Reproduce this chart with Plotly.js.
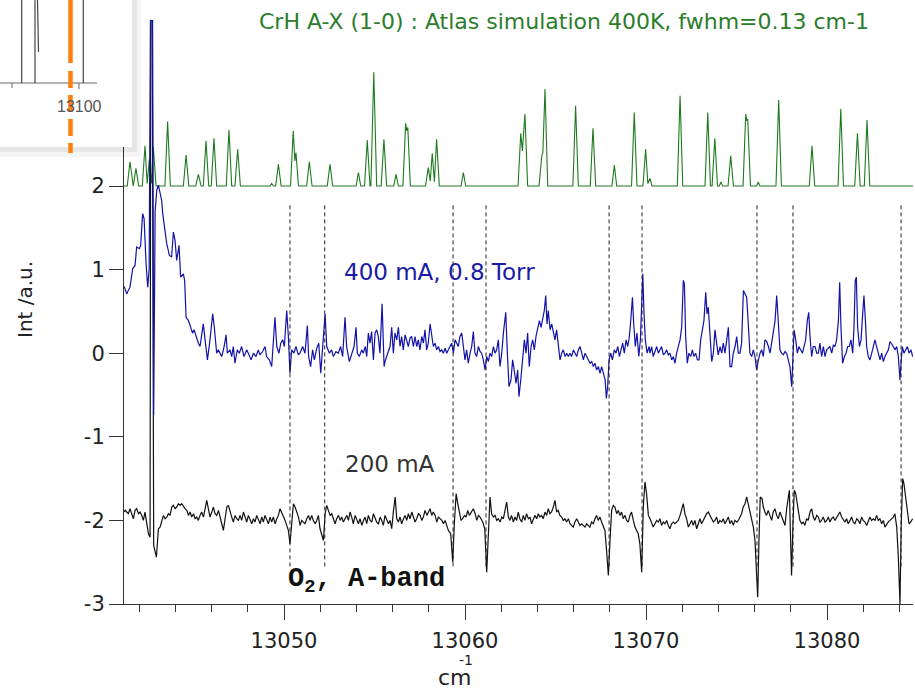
<!DOCTYPE html>
<html>
<head>
<meta charset="utf-8">
<script src="https://cdn.plot.ly/plotly-3.0.1.min.js"></script>
<style>html,body{margin:0;padding:0;background:#fff;}#chart{width:915px;height:692px;}</style>
</head>
<body>
<div id="chart"></div>
<script>
// ---- Data ----
// Simulated CrH A-X (1-0) spectrum (offset +2), line vertices [wavenumber, intensity]
const simSpectrum = [[13041.16,2.0],[13041.34,2.0],[13041.49,2.29],[13041.64,2.0],[13041.67,2.0],[13041.82,2.21],[13041.97,2.0],[13042.17,2.0],[13042.32,2.48],[13042.44,2.03],[13042.56,2.32],[13042.67,2.03],[13042.78,2.47],[13042.93,2.0],[13043.42,2.0],[13043.57,2.77],[13043.72,2.0],[13044.44,2.0],[13044.59,2.37],[13044.74,2.0],[13045.12,2.0],[13045.27,2.14],[13045.42,2.0],[13045.54,2.0],[13045.69,2.54],[13045.84,2.0],[13045.98,2.0],[13046.13,2.57],[13046.28,2.0],[13046.81,2.0],[13046.96,2.67],[13047.11,2.0],[13047.29,2.0],[13047.44,2.44],[13047.59,2.0],[13049.22,2.0],[13049.32,2.03],[13049.42,2.0],[13049.54,2.0],[13049.69,2.26],[13049.84,2.0],[13050.36,2.0],[13050.51,2.66],[13050.60,2.30],[13050.66,2.40],[13050.80,2.0],[13051.25,2.0],[13051.40,2.29],[13051.55,2.0],[13052.39,2.0],[13052.54,2.26],[13052.69,2.0],[13053.98,2.0],[13054.11,2.16],[13054.24,2.0],[13054.45,2.0],[13054.60,2.55],[13054.75,2.0],[13054.80,2.0],[13054.96,3.36],[13055.12,2.0],[13055.37,2.0],[13055.52,2.56],[13055.67,2.0],[13056.06,2.0],[13056.19,2.14],[13056.32,2.0],[13056.57,2.0],[13056.72,2.75],[13056.78,2.66],[13056.84,2.70],[13056.98,2.0],[13057.82,2.0],[13057.97,2.22],[13058.08,2.06],[13058.19,2.39],[13058.31,2.05],[13058.43,2.56],[13058.58,2.0],[13059.78,2.0],[13059.91,2.16],[13060.04,2.0],[13062.93,2.0],[13063.08,2.63],[13063.17,2.42],[13063.31,2.86],[13063.46,2.0],[13064.09,2.0],[13064.24,2.36],[13064.30,2.40],[13064.42,3.16],[13064.57,2.0],[13065.96,2.0],[13066.11,2.96],[13066.26,2.0],[13066.92,2.0],[13067.07,2.69],[13067.22,2.0],[13068.12,2.0],[13068.25,2.25],[13068.38,2.0],[13069.20,2.0],[13069.35,2.88],[13069.50,2.0],[13069.83,2.0],[13069.98,2.44],[13070.10,2.03],[13070.22,2.09],[13070.33,2.0],[13071.73,2.0],[13071.88,3.08],[13072.03,2.0],[13073.26,2.0],[13073.41,2.88],[13073.56,2.0],[13073.65,2.0],[13073.80,2.57],[13073.95,2.0],[13074.05,2.0],[13074.14,2.05],[13074.23,2.0],[13074.53,2.0],[13074.68,2.36],[13074.83,2.0],[13075.36,2.0],[13075.51,2.86],[13075.57,2.78],[13075.62,2.80],[13075.77,2.0],[13076.11,2.0],[13076.20,2.05],[13076.29,2.0],[13077.18,2.0],[13077.33,3.03],[13077.48,2.0],[13079.02,2.0],[13079.17,2.48],[13079.32,2.0],[13080.61,2.0],[13080.76,2.92],[13080.91,2.0],[13081.53,2.0],[13081.68,2.63],[13081.83,2.0],[13082.06,2.0],[13082.21,2.79],[13082.36,2.0],[13084.75,2.0]];

// 400 mA, 0.8 Torr trace [wavenumber, intensity]
const trace400mA = [[13041.17,0.80],[13041.22,0.77],[13041.31,0.71],[13041.49,0.79],[13041.64,1.01],[13041.77,1.05],[13041.86,1.27],[13042.01,1.25],[13042.08,1.29],[13042.19,1.67],[13042.27,1.61],[13042.38,1.07],[13042.47,0.79],[13042.55,1.00],[13042.62,3.98],[13042.74,3.98],[13042.80,-0.74],[13042.88,1.70],[13042.97,1.95],[13043.06,2.01],[13043.15,1.91],[13043.24,1.83],[13043.30,1.67],[13043.43,1.43],[13043.52,1.31],[13043.67,1.17],[13043.79,1.15],[13043.89,1.45],[13043.98,1.35],[13044.07,1.11],[13044.20,1.29],[13044.29,0.91],[13044.44,0.95],[13044.51,0.87],[13044.59,0.43],[13044.72,0.39],[13044.84,0.31],[13044.95,0.24],[13045.03,0.28],[13045.14,0.20],[13045.27,0.12],[13045.36,0.08],[13045.45,0.22],[13045.54,0.35],[13045.64,0.16],[13045.77,-0.08],[13045.91,0.16],[13046.06,0.47],[13046.15,0.31],[13046.28,0.00],[13046.37,0.04],[13046.56,-0.04],[13046.69,0.08],[13046.80,0.22],[13046.87,0.00],[13047.02,0.04],[13047.11,-0.04],[13047.20,0.08],[13047.29,-0.12],[13047.42,0.04],[13047.53,0.00],[13047.66,0.08],[13047.79,-0.04],[13047.94,0.04],[13048.07,-0.02],[13048.18,-0.08],[13048.31,0.00],[13048.45,-0.04],[13048.58,0.04],[13048.67,-0.02],[13048.82,0.02],[13048.95,0.08],[13049.04,-0.04],[13049.19,-0.08],[13049.32,-0.16],[13049.41,0.08],[13049.50,0.43],[13049.60,0.08],[13049.72,0.00],[13049.82,0.12],[13049.93,0.16],[13050.02,0.08],[13050.15,0.51],[13050.24,0.20],[13050.33,-0.24],[13050.42,0.04],[13050.55,0.00],[13050.66,0.08],[13050.79,-0.02],[13050.88,0.00],[13051.03,0.08],[13051.16,0.00],[13051.29,0.33],[13051.36,-0.04],[13051.47,-0.16],[13051.58,0.04],[13051.68,-0.08],[13051.81,0.06],[13051.92,0.12],[13052.03,-0.24],[13052.14,0.12],[13052.27,0.47],[13052.36,0.08],[13052.51,0.00],[13052.63,0.04],[13052.73,-0.04],[13052.87,0.02],[13053.00,0.00],[13053.13,0.08],[13053.24,-0.04],[13053.37,0.43],[13053.46,0.08],[13053.61,-0.10],[13053.74,-0.02],[13053.87,0.08],[13053.98,0.31],[13054.05,0.00],[13054.16,-0.04],[13054.29,0.04],[13054.38,0.00],[13054.49,0.08],[13054.57,-0.04],[13054.66,0.24],[13054.75,0.12],[13054.84,0.26],[13054.94,-0.08],[13055.03,0.24],[13055.12,0.28],[13055.21,0.20],[13055.30,0.00],[13055.42,0.59],[13055.53,-0.16],
[13055.58,-0.10],[13055.73,0.00],[13055.86,0.08],[13055.95,0.31],[13056.04,0.00],[13056.13,0.24],[13056.23,0.16],[13056.32,0.31],[13056.41,0.08],[13056.50,0.20],[13056.59,0.04],[13056.69,0.22],[13056.78,0.16],[13056.87,0.08],[13056.96,0.18],[13057.05,0.20],[13057.15,0.08],[13057.24,0.20],[13057.33,0.08],[13057.42,0.16],[13057.51,0.04],[13057.61,0.20],[13057.70,0.12],[13057.79,0.28],[13057.88,0.04],[13057.97,0.12],[13058.07,0.35],[13058.16,0.20],[13058.25,0.08],[13058.34,0.12],[13058.44,0.04],[13058.53,0.08],[13058.62,0.02],[13058.71,0.04],[13058.80,0.00],[13058.90,0.06],[13058.99,0.00],[13059.08,0.04],[13059.17,0.08],[13059.26,0.12],[13059.36,0.00],[13059.45,0.16],[13059.54,0.12],[13059.63,0.08],[13059.72,0.20],[13059.82,0.24],[13059.91,0.08],[13060.00,-0.08],[13060.09,0.04],[13060.18,-0.12],[13060.28,0.00],[13060.37,0.08],[13060.46,0.26],[13060.55,0.00],[13060.64,-0.04],[13060.74,0.08],[13060.83,0.02],[13060.92,0.00],[13061.01,-0.08],[13061.11,-0.20],[13061.20,-0.04],[13061.29,-0.10],[13061.38,0.00],[13061.47,-0.04],[13061.57,0.08],[13061.66,0.00],[13061.75,0.04],[13061.84,0.16],[13061.93,-0.16],[13062.03,0.00],[13062.12,0.24],[13062.25,0.49],[13062.34,0.00],[13062.43,-0.40],[13062.54,-0.32],[13062.63,-0.08],[13062.73,-0.22],[13062.82,-0.36],[13062.91,-0.20],[13062.98,-0.52],[13063.08,-0.32],[13063.17,-0.08],[13063.28,0.16],[13063.37,0.00],[13063.46,0.24],[13063.55,-0.16],[13063.65,0.08],[13063.74,0.16],[13063.83,0.04],[13063.92,0.20],[13064.02,0.31],[13064.11,0.39],[13064.20,0.31],[13064.29,0.43],[13064.38,0.51],[13064.46,0.69],[13064.53,0.35],[13064.60,0.51],[13064.70,0.28],[13064.79,0.35],[13064.88,0.24],[13064.97,0.16],[13065.06,0.28],[13065.16,0.04],[13065.25,-0.08],[13065.34,0.00],[13065.43,0.04],[13065.53,-0.04],[13065.62,0.00],[13065.71,-0.04],[13065.80,0.00],[13065.89,-0.04],[13065.99,0.04],[13066.08,0.00],[13066.17,-0.04],[13066.26,0.04],[13066.35,0.08],[13066.45,0.00],[13066.54,-0.08],[13066.63,0.00],[13066.72,-0.04],[13066.81,-0.08],[13066.91,-0.12],[13067.00,-0.10],[13067.09,-0.16],[13067.18,-0.12],[13067.27,-0.20],[13067.37,-0.16],[13067.46,-0.24],[13067.55,-0.16],[13067.64,-0.24],[13067.74,-0.32],[13067.81,-0.54],[13067.88,-0.40],[13067.96,-0.08],[13068.05,0.00],[13068.14,-0.08],[13068.25,0.04],[13068.34,0.00],[13068.44,0.08],[13068.53,-0.04],[13068.62,0.06],[13068.71,0.12],[13068.80,0.00],[13068.90,0.16],[13068.99,0.08],[13069.08,0.20],[13069.17,0.43],[13069.25,0.67],[13069.32,0.35],[13069.41,0.08],[13069.50,0.24],[13069.60,-0.04],[13069.69,0.16],[13069.76,0.55],[13069.82,0.95],[13069.89,0.47],[13069.96,0.16],[13070.06,0.00],[13070.17,0.08],
[13070.22,0.00],[13070.31,0.08],[13070.40,-0.04],[13070.50,0.04],[13070.59,0.08],[13070.68,0.00],[13070.77,0.04],[13070.86,0.08],[13070.96,-0.02],[13071.05,0.00],[13071.14,0.04],[13071.23,-0.02],[13071.32,0.00],[13071.42,-0.08],[13071.51,-0.04],[13071.60,-0.12],[13071.69,0.00],[13071.79,0.08],[13071.88,0.16],[13071.97,0.31],[13072.06,0.87],[13072.12,0.83],[13072.19,0.20],[13072.28,-0.12],[13072.37,0.00],[13072.47,-0.04],[13072.56,0.04],[13072.65,-0.04],[13072.74,0.00],[13072.84,-0.08],[13072.93,-0.08],[13073.02,0.16],[13073.11,0.28],[13073.20,0.39],[13073.30,0.73],[13073.37,0.47],[13073.44,0.55],[13073.53,0.16],[13073.63,-0.10],[13073.72,0.00],[13073.81,0.28],[13073.90,0.12],[13073.99,-0.02],[13074.09,0.08],[13074.18,0.00],[13074.27,0.12],[13074.36,0.00],[13074.46,0.16],[13074.55,0.31],[13074.64,-0.16],[13074.73,-0.16],[13074.82,0.00],[13074.92,0.08],[13075.01,0.20],[13075.10,0.00],[13075.19,0.00],[13075.28,0.12],[13075.38,0.75],[13075.47,0.71],[13075.56,0.67],[13075.65,0.35],[13075.74,0.00],[13075.84,-0.04],[13075.93,0.04],[13076.02,-0.04],[13076.11,-0.20],[13076.21,-0.08],[13076.30,0.00],[13076.39,0.04],[13076.48,-0.04],[13076.57,0.16],[13076.67,0.14],[13076.76,0.08],[13076.85,0.00],[13076.94,0.12],[13077.03,0.24],[13077.13,0.39],[13077.22,0.69],[13077.31,0.31],[13077.40,0.04],[13077.49,0.00],[13077.59,-0.02],[13077.68,0.02],[13077.77,0.00],[13077.86,-0.08],[13077.95,-0.16],[13078.05,-0.40],[13078.10,-0.16],[13078.18,0.28],[13078.27,0.16],[13078.36,0.00],[13078.45,0.08],[13078.54,0.04],[13078.64,0.00],[13078.73,0.08],[13078.82,0.16],[13078.91,0.39],[13078.99,0.49],[13079.06,0.20],[13079.15,-0.04],[13079.24,0.08],[13079.34,0.08],[13079.43,0.00],[13079.52,0.00],[13079.61,0.12],[13079.70,-0.04],[13079.80,0.08],[13079.89,-0.04],[13079.98,0.04],[13080.07,0.06],[13080.16,0.08],[13080.26,0.00],[13080.35,0.10],[13080.44,0.08],[13080.53,0.16],[13080.63,0.39],[13080.70,0.85],[13080.77,0.31],[13080.86,-0.12],[13080.96,-0.04],[13081.05,0.00],[13081.14,0.08],[13081.23,0.08],[13081.32,0.16],[13081.42,0.00],[13081.49,0.31],[13081.56,0.87],[13081.62,0.91],[13081.69,0.31],[13081.79,0.08],[13081.88,0.16],[13081.97,0.47],[13082.04,0.69],[13082.12,0.39],[13082.19,0.08],[13082.28,-0.04],[13082.37,-0.08],[13082.47,0.00],[13082.56,0.08],[13082.65,0.16],[13082.74,0.08],[13082.84,0.00],[13082.93,-0.08],[13083.02,0.00],[13083.11,-0.10],[13083.20,-0.04],[13083.30,0.00],[13083.39,0.04],[13083.48,0.14],[13083.57,0.10],[13083.66,0.08],[13083.76,0.04],[13083.85,0.08],[13083.94,-0.04],[13084.03,-0.32],[13084.09,-0.12],[13084.16,0.08],[13084.25,0.00],[13084.35,0.04],[13084.44,0.08],[13084.53,0.00],[13084.64,0.04],[13084.73,-0.04]];

// 200 mA trace [wavenumber, intensity]
const trace200mA = [[13041.17,-1.90],[13041.22,-1.88],[13041.31,-1.90],[13041.40,-1.92],[13041.49,-1.86],[13041.59,-1.94],[13041.68,-1.98],[13041.77,-1.88],[13041.86,-1.86],[13041.96,-1.92],[13042.05,-1.90],[13042.14,-1.94],[13042.23,-2.00],[13042.32,-1.90],[13042.42,-2.04],[13042.51,-2.16],[13042.60,-2.20],[13042.64,3.98],[13042.72,3.98],[13042.80,-2.30],[13042.95,-2.44],[13043.06,-2.10],[13043.15,-2.08],[13043.24,-2.00],[13043.34,-1.94],[13043.43,-1.98],[13043.52,-1.96],[13043.61,-1.92],[13043.70,-1.94],[13043.80,-1.84],[13043.89,-1.82],[13043.98,-1.86],[13044.07,-1.84],[13044.17,-1.80],[13044.26,-1.82],[13044.35,-1.80],[13044.44,-1.84],[13044.53,-1.86],[13044.63,-1.88],[13044.72,-1.94],[13044.81,-1.90],[13044.90,-1.96],[13045.00,-1.92],[13045.09,-1.98],[13045.18,-1.96],[13045.27,-2.00],[13045.36,-1.94],[13045.45,-1.90],[13045.55,-1.96],[13045.64,-1.86],[13045.73,-1.76],[13045.82,-1.86],[13045.91,-1.96],[13046.01,-1.90],[13046.10,-1.84],[13046.19,-1.92],[13046.28,-1.94],[13046.38,-1.88],[13046.47,-1.98],[13046.56,-2.04],[13046.65,-2.12],[13046.74,-1.96],[13046.84,-1.84],[13046.93,-1.82],[13047.02,-1.90],[13047.11,-1.96],[13047.20,-2.02],[13047.30,-1.94],[13047.39,-1.98],[13047.48,-2.00],[13047.57,-1.94],[13047.66,-2.00],[13047.76,-1.90],[13047.85,-1.96],[13047.94,-2.02],[13048.03,-1.94],[13048.12,-1.98],[13048.22,-2.04],[13048.31,-1.98],[13048.40,-2.02],[13048.49,-1.94],[13048.59,-2.00],[13048.68,-2.04],[13048.77,-1.96],[13048.86,-2.02],[13048.95,-1.94],[13049.05,-2.00],[13049.14,-2.04],[13049.23,-1.96],[13049.32,-2.02],[13049.41,-1.96],[13049.51,-2.04],[13049.60,-1.98],[13049.69,-1.94],[13049.78,-1.86],[13049.87,-1.90],[13049.97,-1.96],[13050.06,-2.00],[13050.15,-2.06],[13050.24,-2.12],[13050.33,-2.28],[13050.43,-1.96],[13050.52,-1.80],[13050.61,-1.84],[13050.70,-1.90],[13050.80,-1.96],[13050.89,-2.06],[13050.98,-2.00],[13051.07,-2.02],[13051.16,-2.04],[13051.26,-1.98],[13051.35,-1.94],[13051.44,-2.00],[13051.53,-1.94],[13051.62,-2.00],[13051.72,-2.04],[13051.81,-2.00],[13051.90,-1.94],[13051.99,-2.10],[13052.08,-2.18],[13052.18,-2.24],[13052.27,-1.92],[13052.36,-1.82],[13052.45,-1.88],[13052.55,-1.94],[13052.64,-1.92],[13052.73,-1.98],[13052.82,-2.04],[13052.91,-1.98],[13053.01,-1.94],[13053.10,-2.00],[13053.19,-1.96],[13053.28,-2.02],[13053.37,-1.98],[13053.47,-1.94],[13053.56,-2.00],[13053.65,-1.90],[13053.74,-1.96],[13053.83,-2.04],[13053.93,-1.94],[13054.02,-2.00],[13054.11,-2.04],[13054.20,-1.98],[13054.30,-2.06],[13054.39,-2.00],[13054.48,-1.96],[13054.57,-2.04],[13054.66,-1.94],[13054.76,-2.00],[13054.85,-2.02],[13054.94,-1.92],[13055.03,-1.98],[13055.12,-2.02],[13055.22,-2.04],[13055.31,-1.96],[13055.40,-2.00],[13055.49,-2.06],[13055.58,-1.94],[13055.68,-2.00],[13055.77,-2.04],[13055.86,-2.00],[13055.95,-2.10],[13056.04,-1.90],[13056.14,-1.72],[13056.23,-1.98],[13056.32,-2.02],[13056.41,-1.96],[13056.50,-2.04],[13056.60,-1.98],[13056.69,-1.94],[13056.78,-2.00],[13056.87,-1.92],[13056.96,-1.98],[13057.06,-1.90],[13057.15,-1.96],[13057.24,-2.02],[13057.33,-1.98],[13057.43,-1.92],[13057.52,-1.94],[13057.61,-2.00],[13057.70,-1.96],[13057.79,-1.88],[13057.89,-1.94],[13057.98,-1.90],[13058.07,-1.86],[13058.16,-1.94],[13058.25,-1.90],[13058.35,-1.94],[13058.44,-2.02],[13058.53,-1.96],[13058.62,-1.98],[13058.72,-2.00],[13058.81,-2.04],[13058.90,-2.00],[13058.99,-2.06],[13059.08,-2.12],[13059.21,-2.16],[13059.32,-2.50],[13059.41,-2.04],[13059.51,-1.68],[13059.60,-1.80],[13059.69,-1.90],[13059.78,-2.00],[13059.87,-1.98],[13059.97,-1.94],[13060.06,-1.96],[13060.15,-1.88],[13060.24,-1.94],[13060.33,-1.90],[13060.46,-1.86],[13060.56,-1.92],[13060.65,-2.00],[13060.74,-1.94],[13060.83,-1.96],[13060.98,-2.02],[13061.09,-2.10],[13061.20,-2.62],[13061.29,-2.04],[13061.38,-1.72],[13061.47,-1.92],[13061.57,-1.96],[13061.66,-1.94],[13061.75,-2.00],[13061.84,-1.98],[13061.94,-2.02],[13062.03,-1.96],[13062.12,-1.98],[13062.21,-1.88],[13062.30,-1.78],[13062.40,-1.96],
[13062.48,-2.00],[13062.57,-1.94],[13062.67,-2.02],[13062.76,-1.96],[13062.85,-2.00],[13062.94,-1.90],[13063.03,-1.98],[13063.13,-2.02],[13063.22,-1.94],[13063.31,-2.00],[13063.40,-1.92],[13063.50,-1.98],[13063.59,-1.96],[13063.68,-2.04],[13063.77,-1.98],[13063.86,-1.94],[13063.96,-1.98],[13064.05,-1.92],[13064.14,-1.96],[13064.23,-1.94],[13064.32,-1.98],[13064.42,-1.90],[13064.51,-1.94],[13064.60,-1.86],[13064.69,-1.92],[13064.78,-1.90],[13064.88,-1.84],[13064.97,-1.76],[13065.06,-1.90],[13065.15,-1.88],[13065.24,-1.94],[13065.34,-1.96],[13065.43,-2.00],[13065.52,-1.98],[13065.61,-2.02],[13065.71,-1.98],[13065.80,-2.04],[13065.89,-2.06],[13065.98,-2.08],[13066.07,-2.02],[13066.17,-1.98],[13066.26,-2.02],[13066.35,-2.06],[13066.44,-2.04],[13066.53,-2.06],[13066.63,-2.08],[13066.72,-2.04],[13066.81,-2.06],[13066.90,-2.08],[13066.99,-2.02],[13067.09,-2.04],[13067.18,-1.98],[13067.27,-1.94],[13067.36,-2.00],[13067.45,-1.96],[13067.55,-2.02],[13067.64,-2.06],[13067.73,-2.12],[13067.82,-2.36],[13067.92,-2.66],[13068.01,-2.24],[13068.10,-1.88],[13068.19,-1.82],[13068.28,-1.84],[13068.38,-1.92],[13068.47,-1.88],[13068.56,-1.94],[13068.65,-1.90],[13068.74,-1.98],[13068.84,-1.94],[13068.93,-2.00],[13069.02,-2.02],[13069.11,-1.94],[13069.20,-1.90],[13069.30,-2.00],[13069.39,-2.08],[13069.48,-2.12],[13069.57,-2.16],[13069.66,-2.28],[13069.76,-2.62],[13069.85,-1.84],[13069.94,-1.54],[13070.03,-1.68],[13070.13,-1.94],[13070.22,-1.98],[13070.31,-2.02],[13070.40,-2.08],[13070.49,-2.04],[13070.59,-2.00],[13070.68,-2.02],[13070.77,-1.98],[13070.86,-2.06],[13070.95,-2.02],[13071.05,-2.04],[13071.14,-2.00],[13071.23,-2.06],[13071.32,-2.10],[13071.41,-2.04],[13071.51,-2.02],[13071.60,-2.04],[13071.69,-2.02],[13071.78,-2.00],[13071.88,-1.94],[13071.97,-1.88],[13072.06,-1.80],[13072.15,-1.92],[13072.24,-1.98],[13072.34,-2.08],[13072.43,-2.04],[13072.52,-2.00],[13072.61,-2.06],[13072.70,-2.00],[13072.80,-2.10],[13072.89,-2.04],[13072.98,-1.98],[13073.07,-2.04],[13073.16,-2.00],[13073.26,-1.96],[13073.35,-1.92],[13073.44,-1.90],[13073.53,-1.94],[13073.62,-1.96],[13073.72,-2.02],[13073.81,-2.00],[13073.90,-1.96],[13073.99,-2.04],[13074.08,-2.00],[13074.18,-2.02],[13074.27,-1.98],[13074.36,-2.04],[13074.45,-2.00],[13074.55,-1.96],[13074.64,-2.04],[13074.73,-2.00],[13074.82,-2.06],[13074.91,-2.00],[13075.01,-2.02],[13075.10,-2.00],[13075.19,-1.96],[13075.28,-1.92],[13075.37,-1.84],[13075.47,-1.80],[13075.56,-1.72],[13075.65,-1.80],[13075.74,-1.88],[13075.83,-1.96],[13075.93,-2.08],[13076.02,-2.24],[13076.11,-2.56],[13076.17,-2.92],[13076.24,-2.24],[13076.31,-1.72],[13076.41,-1.74],[13076.48,-1.84],[13076.57,-1.90],[13076.66,-1.94],[13076.75,-1.88],[13076.85,-1.96],[13076.94,-2.00],[13077.03,-1.90],[13077.12,-1.86],[13077.22,-1.94],[13077.31,-1.98],[13077.40,-1.90],[13077.49,-1.96],[13077.58,-2.02],[13077.68,-2.06],[13077.77,-1.86],[13077.86,-1.68],[13077.92,-1.64],[13077.97,-2.08],[13078.04,-2.66],[13078.12,-2.04],[13078.19,-1.64],[13078.27,-1.68],[13078.34,-1.78],[13078.41,-1.88],[13078.50,-2.00],[13078.60,-2.04],[13078.69,-2.02],[13078.78,-2.06],[13078.87,-1.98],[13078.96,-2.00],[13079.06,-1.90],[13079.15,-1.86],[13079.24,-1.96],[13079.33,-2.00],[13079.43,-1.94],[13079.52,-1.96],[13079.61,-2.02],[13079.70,-2.00],[13079.79,-1.96],[13079.89,-2.02],[13079.98,-2.00],[13080.07,-1.96],[13080.16,-2.02],[13080.25,-1.98],[13080.35,-1.96],[13080.44,-2.00],[13080.53,-1.96],[13080.62,-1.92],[13080.71,-1.90],[13080.81,-1.96],[13080.90,-2.00],[13080.99,-2.02],[13081.08,-1.98],[13081.17,-2.04],[13081.27,-2.00],[13081.36,-1.96],[13081.45,-2.02],[13081.54,-2.04],[13081.64,-1.98],[13081.73,-2.00],[13081.82,-2.04],[13081.91,-1.96],[13082.00,-2.00],[13082.10,-2.02],[13082.19,-2.06],[13082.28,-2.00],[13082.37,-1.96],[13082.46,-2.00],[13082.56,-1.98],[13082.65,-2.00],[13082.74,-1.94],[13082.83,-2.00],[13082.92,-1.98],[13083.02,-2.04],[13083.11,-2.00],[13083.20,-2.08],[13083.29,-2.04],[13083.38,-2.02],[13083.48,-2.00],[13083.57,-1.98],[13083.66,-1.96],[13083.75,-1.92],[13083.85,-2.08],[13083.94,-2.44],[13084.03,-3.00],[13084.10,-2.04],[13084.18,-1.50],[13084.25,-1.56],[13084.34,-1.72],[13084.43,-1.90],[13084.53,-2.04],[13084.62,-2.02],[13084.73,-1.98]];

// O2 A-band line positions (dotted markers)
const o2Lines = [13050.33, 13052.25, 13059.34, 13061.16, 13067.96, 13069.78, 13076.13, 13078.12, 13084.09];

// Axis ticks
const xRange = [13041.16, 13084.75];
const yRange = [-3, 4.225];
const yTickVals = [-3, -2, -1, 0, 1, 2];
const yTickText = ['-3', '-2', '-1', '0', '1', '2'];

// Text labels
const titleText = 'CrH A-X (1-0) : Atlas simulation 400K, fwhm=0.13 cm-1';
const label400 = '400 mA, 0.8 Torr';
const label200 = '200 mA';
const labelO2 = 'O<sub>2</sub>, A-band';

// ---- Drawing ----
const L = 124, R = 913, T = 0, B = 604;
const px = x => (x - L) / (R - L);
const py = y => (B - y) / (B - T);

const GREEN = '#1f7a1f', BLUE = '#1212a8', BLACK = '#111111';
const FONT = 'DejaVu Sans';

const traces = [
  { x: simSpectrum.map(p => p[0]), y: simSpectrum.map(p => p[1]), mode: 'lines', line: { color: GREEN, width: 1.1 }, hoverinfo: 'skip' },
  { x: trace200mA.map(p => p[0]), y: trace200mA.map(p => p[1]), mode: 'lines', line: { color: BLACK, width: 1.2 }, hoverinfo: 'skip' },
  { x: trace400mA.map(p => p[0]), y: trace400mA.map(p => p[1]), mode: 'lines', line: { color: BLUE, width: 1.2 }, hoverinfo: 'skip' }
];

const shapes = [];
o2Lines.forEach(v => shapes.push({ type: 'line', xref: 'x', yref: 'y', x0: v, x1: v, y0: -2.55, y1: 1.8, line: { color: '#222', width: 1, dash: '4px,3px' }, layer: 'above' }));

// Inset (cropped screenshot overlay) in the top-left corner
shapes.push({ type: 'rect', xref: 'paper', yref: 'paper', x0: px(0), x1: px(141), y0: py(157), y1: py(0), fillcolor: 'rgba(0,0,0,0.04)', line: { width: 0 }, layer: 'above' });
shapes.push({ type: 'rect', xref: 'paper', yref: 'paper', x0: px(0), x1: px(137), y0: py(152), y1: py(0), fillcolor: 'rgba(0,0,0,0.06)', line: { width: 0 }, layer: 'above' });
shapes.push({ type: 'rect', xref: 'paper', yref: 'paper', x0: px(0), x1: px(132), y0: py(147), y1: py(0), fillcolor: '#ffffff', line: { width: 0 }, layer: 'above' });
shapes.push({ type: 'line', xref: 'paper', yref: 'paper', x0: px(0), x1: px(97), y0: py(83), y1: py(83), line: { color: '#666', width: 1 }, layer: 'above' });
[[12, 88], [79, 89]].forEach(t => shapes.push({ type: 'line', xref: 'paper', yref: 'paper', x0: px(t[0]), x1: px(t[0]), y0: py(83), y1: py(t[1]), line: { color: '#666', width: 1 }, layer: 'above' }));
[[21.7, 0, 21.7, 83], [35, 0, 35, 83], [37.5, 0, 38.5, 52], [83.3, 0, 83.3, 83]].forEach(s => shapes.push({ type: 'line', xref: 'paper', yref: 'paper', x0: px(s[0]), x1: px(s[2]), y0: py(s[1]), y1: py(s[3]), line: { color: '#444', width: 1.2 }, layer: 'above' }));
shapes.push({ type: 'line', xref: 'paper', yref: 'paper', x0: px(70.5), x1: px(70.5), y0: py(0), y1: py(63), line: { color: '#ff7f0e', width: 4.5 }, layer: 'above' });
shapes.push({ type: 'line', xref: 'paper', yref: 'paper', x0: px(70.5), x1: px(70.5), y0: py(71), y1: py(153), line: { color: '#ff7f0e', width: 4.5, dash: '17px,7px' }, layer: 'above' });

const annotations = [
  { text: titleText, xref: 'paper', yref: 'paper', x: px(564), y: py(22), xanchor: 'center', yanchor: 'middle', showarrow: false, font: { family: FONT, size: 22, color: '#2b7d2b' } },
  { text: label400, xref: 'x', yref: 'y', x: 13053.2, y: 0.97, xanchor: 'left', yanchor: 'middle', showarrow: false, font: { family: FONT, size: 23, color: '#1a1aa6' } },
  { text: label200, xref: 'x', yref: 'y', x: 13053.25, y: -1.33, xanchor: 'left', yanchor: 'middle', showarrow: false, font: { family: FONT, size: 23, color: '#333' } },
  { text: labelO2, xref: 'x', yref: 'y', x: 13050.1, y: -2.73, xanchor: 'left', yanchor: 'middle', showarrow: false, font: { family: 'Liberation Mono', size: 27, color: '#111', weight: 'bold' } },
  { text: 'cm', xref: 'paper', yref: 'paper', x: px(455), y: py(692), xanchor: 'center', yanchor: 'bottom', showarrow: false, font: { family: FONT, size: 22, color: '#222' } },
  { text: '-1', xref: 'paper', yref: 'paper', x: px(466), y: py(660), xanchor: 'center', yanchor: 'middle', showarrow: false, font: { family: FONT, size: 14, color: '#222' } },
  { text: 'Int /a.u.', xref: 'paper', yref: 'paper', x: px(25), y: py(300), xanchor: 'center', yanchor: 'middle', textangle: -90, showarrow: false, font: { family: FONT, size: 20, color: '#222' } },
  { text: '13100', xref: 'paper', yref: 'paper', x: px(79.5), y: py(107), xanchor: 'center', yanchor: 'middle', showarrow: false, font: { family: 'Liberation Sans', size: 16, color: '#555' } }
];

const layout = {
  width: 915, height: 692,
  margin: { l: L, r: 915 - R, t: T, b: 692 - B, pad: 0 },
  paper_bgcolor: '#ffffff', plot_bgcolor: '#ffffff',
  showlegend: false,
  xaxis: {
    range: xRange, tickmode: 'linear', tick0: 13050, dtick: 10, tickformat: 'd',
    ticks: 'outside', ticklen: 15, tickwidth: 1, tickcolor: '#333', ticklabelstandoff: 3,
    showline: true, linecolor: '#333', linewidth: 1, showgrid: false, zeroline: false,
    tickfont: { family: FONT, size: 21, color: '#222' },
    minor: { tickmode: 'linear', tick0: 13040, dtick: 2, ticks: 'outside', ticklen: 7, tickwidth: 1, tickcolor: '#333', showgrid: false }
  },
  yaxis: {
    range: yRange, tickmode: 'array', tickvals: yTickVals, ticktext: yTickText,
    ticks: 'outside', ticklen: 14, tickwidth: 1, tickcolor: '#333',
    showline: true, linecolor: '#333', linewidth: 1, showgrid: false, zeroline: false,
    tickfont: { family: FONT, size: 21, color: '#222' }
  },
  shapes: shapes,
  annotations: annotations
};

Plotly.newPlot('chart', traces, layout, { displayModeBar: false, staticPlot: true });
</script>
</body>
</html>
